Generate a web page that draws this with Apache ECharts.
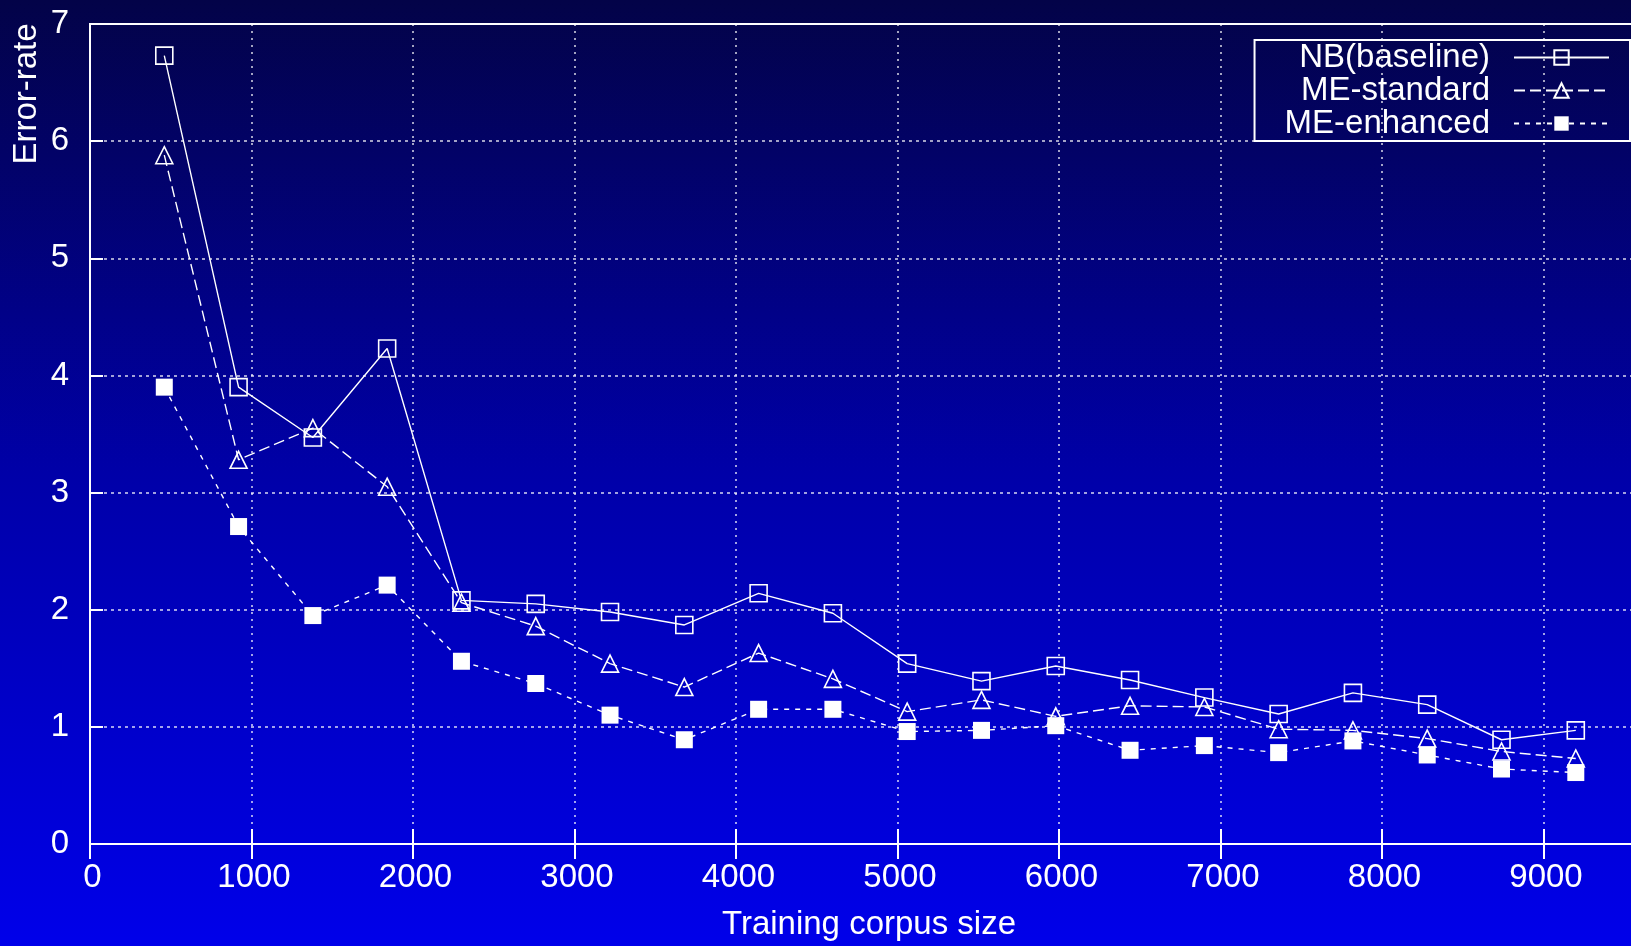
<!DOCTYPE html>
<html>
<head>
<meta charset="utf-8">
<title>Error-rate vs training corpus size</title>
<script src="https://cdn.jsdelivr.net/npm/echarts@6/dist/echarts.min.js"></script>
<style>
  html, body { margin: 0; padding: 0; }
  #chart {
    width: 1631px;
    height: 946px;
    background: linear-gradient(to bottom, #030348 0%, #0000a8 50%, #0000ea 100%);
  }
</style>
</head>
<body>
<div id="chart"></div>
<script>
// training corpus sizes (x)
const corpusSize = [460, 920, 1380, 1840, 2300, 2760, 3220, 3680, 4140, 4600,
  5060, 5520, 5980, 6440, 6900, 7360, 7820, 8280, 8740, 9200]

const nbBaseline = [6.73, 3.90, 3.47, 4.23, 2.08, 2.05, 1.98, 1.87, 2.14, 1.97,
  1.54, 1.39, 1.52, 1.40, 1.25, 1.11, 1.29, 1.19, 0.89, 0.97]
const meStandard = [5.88, 3.28, 3.55, 3.05, 2.06, 1.86, 1.54, 1.34, 1.63, 1.41,
  1.13, 1.23, 1.09, 1.18, 1.17, 0.98, 0.97, 0.90, 0.79, 0.73]
const meEnhanced = [3.90, 2.71, 1.95, 2.21, 1.56, 1.37, 1.10, 0.89, 1.15, 1.15,
  0.96, 0.97, 1.01, 0.80, 0.84, 0.78, 0.88, 0.76, 0.64, 0.61]

const seriesNames = ['NB(baseline)', 'ME-standard', 'ME-enhanced']

const FONT = '"Liberation Sans", Arial, Helvetica, sans-serif'
const FS = 33
const WHITE = '#ffffff'

const chart = echarts.init(document.getElementById('chart'))

function pairs(ys) {
  return corpusSize.map((x, i) => [x, ys[i]])
}

function lineSeries(name, ys, symbol, filled, dash) {
  return {
    name,
    type: 'line',
    data: pairs(ys),
    symbol,
    symbolSize: 17,
    showSymbol: true,
    animation: false,
    lineStyle: { color: WHITE, width: 1.4, type: dash },
    itemStyle: {
      color: filled ? WHITE : 'transparent',
      borderColor: WHITE,
      borderWidth: filled ? 0 : 1.6,
    },
    emphasis: { disabled: true },
  }
}

const tickStyle = { lineStyle: { color: WHITE, width: 2 } }

const option = {
  backgroundColor: 'transparent',
  textStyle: { fontFamily: FONT, color: WHITE },
  grid: {
    left: 90, top: 24, bottom: 102, right: -74,
    outerBoundsMode: 'none',
    containLabel: false,
    show: true, borderColor: WHITE, borderWidth: 2,
    backgroundColor: 'transparent',
  },
  legend: {
    data: seriesNames,
    orient: 'vertical',
    align: 'right',
    right: 1,
    top: 40,
    itemWidth: 95,
    itemHeight: 18,
    itemGap: 0,
    padding: [1, 20, 1, 30],
    borderColor: WHITE,
    borderWidth: 2,
    backgroundColor: 'transparent',
    selectedMode: false,
    textStyle: { color: WHITE, fontSize: FS, fontFamily: FONT, padding: [0, 19, 0, 0] },
  },
  xAxis: [{
    type: 'value',
    min: 0, max: 10000, interval: 1000,
    position: 'bottom',
    axisLine: { show: true, onZero: false, lineStyle: { color: WHITE, width: 2 } },
    axisTick: { show: true, inside: true, length: 15, ...tickStyle },
    axisLabel: {
      color: WHITE, fontSize: FS, fontFamily: FONT, margin: 17, padding: [0, 0, 0, 5],
      formatter: (v) => String(v),
    },
    splitLine: { show: true, lineStyle: { color: 'rgba(255,255,255,0.85)', width: 1.5, type: [2, 5] } },
  }, {
    type: 'value',
    min: 0, max: 10000, interval: 1000,
    position: 'top',
    axisLine: { show: true, lineStyle: { color: WHITE, width: 2 } },
    axisTick: { show: true, inside: true, length: 15, ...tickStyle },
    axisLabel: { show: false },
    splitLine: { show: false },
  }],
  yAxis: {
    type: 'value',
    min: 0, max: 7, interval: 1,
    axisLine: { show: true, onZero: false, lineStyle: { color: WHITE, width: 2 } },
    axisTick: { show: true, inside: true, length: 13, ...tickStyle },
    axisLabel: { color: WHITE, fontSize: FS, fontFamily: FONT, margin: 21 },
    splitLine: { show: true, lineStyle: { color: 'rgba(255,255,255,0.85)', width: 1.5, type: [3, 4] } },
  },
  graphic: [{
    type: 'text',
    x: 27, y: 94,
    rotation: Math.PI / 2,
    style: {
      text: 'Error-rate', fill: WHITE, font: FS + 'px ' + FONT,
      align: 'center', verticalAlign: 'middle',
    },
  }, {
    type: 'text',
    x: 869, y: 925,
    style: {
      text: 'Training corpus size', fill: WHITE, font: FS + 'px ' + FONT,
      align: 'center', verticalAlign: 'middle',
    },
  }],
  series: [
    lineSeries(seriesNames[0], nbBaseline, 'rect', false, 'solid'),
    lineSeries(seriesNames[1], meStandard, 'triangle', false, [11, 5]),
    lineSeries(seriesNames[2], meEnhanced, 'rect', true, [5, 6]),
  ],
}

chart.setOption(option)
window.addEventListener('resize', () => chart.resize())
</script>
</body>
</html>
